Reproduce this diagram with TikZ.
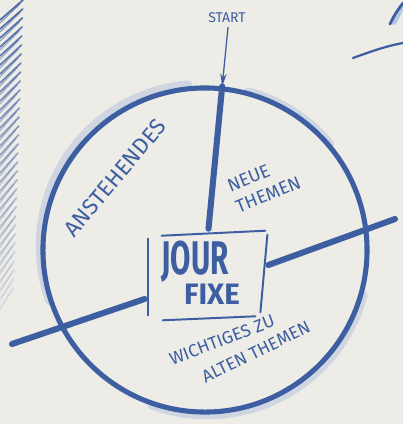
\documentclass[tikz,border=0pt]{standalone}
\usepackage{fontspec}
\setmainfont{Fira Sans}
\usetikzlibrary{arrows.meta,positioning,calc}
\definecolor{ink}{HTML}{3D5EA1}
\definecolor{paper}{HTML}{EDECE7}
\definecolor{haze}{HTML}{B7C5DF}
\tikzset{
  pen/.style      = {draw=ink,line cap=round},
  rim/.style      = {pen,line width=3.6pt},
  spoke/.style    = {pen,line width=4.3pt},
  frame/.style    = {pen,line width=1.4pt},
  hatch/.style    = {pen,line width=1.2pt},
  halo/.style     = {draw=haze,line width=6pt,line cap=round,opacity=0.55},
  startarr/.style = {-{Stealth[length=3.2mm,width=1.6mm]},pen,line width=0.9pt},
  hand/.style     = {text=ink,inner sep=0pt},
}

\begin{document}
\begin{tikzpicture}[x=0.025cm,y=-0.025cm]
  \fill[paper] (0,0) rectangle (403,424);
  \useasboundingbox (0,0) rectangle (403,424);

  % hatching cut off at the left edge
  \foreach \y in {0,9,...,290}{
    \pgfmathsetmacro{\op}{0.9-\y/360}
    \draw[hatch,draw opacity=\op] (0,\y+20) -- (23-\y/30,\y);
    \draw[hatch,line width=0.7pt,draw opacity=\op*0.7] (0,\y+23) -- (20-\y/30,\y+4);
  }

  % strokes cut off at the top right
  \draw[haze,line width=4pt,line cap=round] (394,22) -- (401,8);
  \draw[pen,line width=2pt] (390,24) .. controls (395,14) .. (403,3);
  \draw[pen,line width=1.6pt] (353,58) .. controls (380,48) and (392,45) .. (403,43);

  % the round, with its wash
  \draw[halo] (202,246) ++(95:4.05cm) arc[start angle=95,end angle=200,radius=4.05cm];
  \draw[halo] (207,253) ++(250:4.05cm) arc[start angle=250,end angle=345,radius=4.05cm];
  \draw[halo] (206,248) ++(40:4.05cm) arc[start angle=40,end angle=75,radius=4.05cm];
  \node[rim,circle,minimum size=8.1cm,inner sep=0pt] (rim) at (205,250) {};

  % the box in the middle
  \node[minimum width=2.98cm,minimum height=2.15cm,inner sep=0pt] (box) at (207.5,275) {};
  \draw[frame] ($(box.north west)+(14,4)$) -- ($(box.north east)+(-2,-1)$);
  \draw[frame] ($(box.north west)+(0,7)$) -- ($(box.south west)+(0,-3)$);
  \draw[frame] ($(box.north east)+(0,3)$) -- ($(box.south east)+(-7,-6)$);
  \draw[frame] ($(box.south west)+(15,2)$) -- ($(box.south east)+(-12,-2)$);
  \node[hand,font=\fontsize{21}{21}\selectfont\bfseries] (jour) at (195,262)
       {\scalebox{1}[1.6]{JOUR}};
  \node[hand,font=\fontsize{21}{21}\selectfont\bfseries] (fixe) at (212,294) {FIXE};

  % spokes
  \coordinate (rend) at (395,219);
  \coordinate (lend) at (12,344);
  \draw[spoke] (rim.84) -- ($(box.north)+(1,-3)$);
  \draw[spoke] ($(box.east)+(1,-10)$) -- (rend);
  \draw[spoke] ($(box.west)+(-3,24)$) -- (lend);

  % start
  \node[hand,font=\fontsize{10}{10}\selectfont] (start) at (227,18) {START};
  \draw[startarr] ($(start.south)+(1,4)$) -- (rim.84);

  % labels of the three parts
  \node[hand,rotate=50,font=\fontsize{16}{16}\selectfont] (todo) at (115,178)
       {ANSTEHENDES};
  \node[hand,rotate=22,align=left,font=\fontsize{13}{16}\selectfont] (neu) at (264,184)
       {NEUE\\THEMEN};
  \node[hand,rotate=21,font=\fontsize{12.5}{12.5}\selectfont] (wicht) at (222,340)
       {WICHTIGES ZU};
  \node[hand,rotate=26,font=\fontsize{12.5}{12.5}\selectfont] (alt) at (256,352)
       {ALTEN THEMEN};
\end{tikzpicture}
\end{document}
